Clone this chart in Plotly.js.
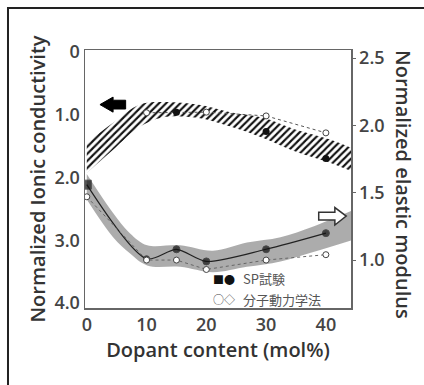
<!DOCTYPE html>
<html>
<head>
<meta charset="utf-8">
<script src="https://cdn.plot.ly/plotly-3.0.1.min.js"></script>
<style>html,body{margin:0;padding:0;background:#fff;}#chart{width:424px;height:385px;}</style>
</head>
<body>
<div id="chart"></div>
<script>
// ---- data ----
// Ionic conductivity (left axis, reversed)
const icSpX = [15, 30, 40];
const icSpY = [0.96, 1.27, 1.70];
const icMdX = [10, 20, 30, 40];
const icMdY = [0.97, 0.96, 1.02, 1.29];
// hatched band around ionic conductivity
const icBandX = [0, 4.4, 8.9, 12.8, 18.5, 24, 29.5, 35, 40.8, 45];
const icBandTop = [1.45, 1.13, 0.84, 0.80, 0.84, 0.96, 1.05, 1.24, 1.40, 1.56];
const icBandBottom = [1.93, 1.56, 1.19, 1.04, 1.05, 1.19, 1.37, 1.59, 1.77, 1.93];

// Elastic modulus (right axis)
const emSpX = [0, 10, 15, 20, 30, 40];
const emSpY = [1.56, 1.01, 1.08, 0.99, 1.08, 1.20];
const emMdX = [0, 10, 15, 20, 30, 40];
const emMdY = [1.47, 1.00, 1.00, 0.93, 1.00, 1.04];
// gray band around elastic modulus
const emBandX = [0, 4.4, 7.2, 10.1, 15.6, 21.1, 26.8, 32.4, 37.9, 44.5];
const emBandTop = [1.64, 1.35, 1.20, 1.11, 1.11, 1.07, 1.13, 1.17, 1.25, 1.37];
const emBandBottom = [1.45, 1.17, 1.05, 0.96, 0.95, 0.91, 0.95, 0.99, 1.06, 1.15];

// tick labels
const xTicks = [0, 10, 20, 30, 40];
const leftTicks = [0, 1, 2, 3, 4];
const leftTickText = ['0', '1.0', '2.0', '3.0', '4.0'];
const rightTicks = [1.0, 1.5, 2.0, 2.5];
const rightTickText = ['1.0', '1.5', '2.0', '2.5'];

// legend texts
const legendSp = 'SP試験';
const legendMd = '分子動力学法';

const fontFam = '"Open Sans", "Liberation Sans", sans-serif';
const jpFam = '"Noto Sans CJK JP", sans-serif';

const traces = [
  // hatched band (ionic conductivity)
  {x: icBandX, y: icBandTop, yaxis: 'y', mode: 'lines', line: {width: 0, shape: 'spline'}, hoverinfo: 'skip', showlegend: false},
  {x: icBandX, y: icBandBottom, yaxis: 'y', mode: 'lines', line: {width: 0, shape: 'spline'}, fill: 'tonexty',
   fillcolor: 'white',
   fillpattern: {shape: '/', fgcolor: '#111', bgcolor: 'white', size: 5, solidity: 0.42},
   hoverinfo: 'skip', showlegend: false},
  // gray band (elastic modulus)
  {x: emBandX, y: emBandTop, yaxis: 'y2', mode: 'lines', line: {width: 0, shape: 'spline'}, hoverinfo: 'skip', showlegend: false},
  {x: emBandX, y: emBandBottom, yaxis: 'y2', mode: 'lines', line: {width: 0, shape: 'spline'}, fill: 'tonexty',
   fillcolor: 'rgba(140,140,140,0.72)', hoverinfo: 'skip', showlegend: false},
  // elastic modulus SP
  {x: emSpX, y: emSpY, yaxis: 'y2', mode: 'lines+markers', name: 'SP試験 (modulus)',
   line: {color: '#222', width: 1.2, shape: 'spline', smoothing: 0.8},
   marker: {color: '#111', size: [9, 6, 7, 7, 7, 7], symbol: ['square', 'circle', 'circle', 'circle', 'circle', 'circle']},
   showlegend: false},
  // elastic modulus MD
  {x: emMdX, y: emMdY, yaxis: 'y2', mode: 'lines+markers', name: '分子動力学法 (modulus)',
   line: {color: '#666', width: 1, dash: 'dot'},
   marker: {color: 'white', size: 6, symbol: 'circle', line: {color: '#444', width: 1}},
   showlegend: false},
  // ionic conductivity MD
  {x: icMdX, y: icMdY, yaxis: 'y', mode: 'lines+markers', name: '分子動力学法 (conductivity)',
   line: {color: '#555', width: 1, dash: 'dot'},
   marker: {color: 'white', size: 6, symbol: 'circle', line: {color: '#444', width: 1}},
   showlegend: false},
  // ionic conductivity SP
  {x: icSpX, y: icSpY, yaxis: 'y', mode: 'markers', name: 'SP試験 (conductivity)',
   marker: {color: '#111', size: 7, symbol: 'circle'},
   showlegend: false}
];

const layout = {
  width: 424, height: 385,
  margin: {l: 85, r: 73, t: 50, b: 77},
  paper_bgcolor: 'white', plot_bgcolor: 'white',
  font: {family: fontFam, color: '#333'},
  showlegend: false,
  xaxis: {
    range: [-0.3, 44.2], tickvals: xTicks, ticktext: xTicks.map(String),
    showgrid: false, zeroline: false, showline: true, mirror: true, linecolor: '#666', linewidth: 1.5,
    ticks: '', tickfont: {size: 18, color: '#444', weight: 600},
    title: {text: 'Dopant content (mol%)', font: {size: 20, color: '#333', weight: 600}, standoff: 1}
  },
  yaxis: {
    range: [4.08, -0.03], tickvals: leftTicks, ticktext: leftTickText,
    showgrid: false, zeroline: false, showline: true, linecolor: '#666', linewidth: 1.5,
    ticks: '', tickfont: {size: 18, color: '#444', weight: 600},
    title: {text: 'Normalized Ionic conductivity', font: {size: 20, color: '#333', weight: 600}, standoff: 3}
  },
  yaxis2: {
    overlaying: 'y', side: 'right', range: [0.644, 2.56], tickvals: rightTicks, ticktext: rightTickText,
    showgrid: false, zeroline: false, showline: true, linecolor: '#666', linewidth: 1.5,
    ticks: 'outside', ticklen: 3, tickcolor: '#666', tickfont: {size: 18, color: '#444', weight: 600}
  },
  shapes: [
    // outer frame (top & left visible)
    {type: 'rect', xref: 'paper', yref: 'paper', x0: -0.2895, x1: 1.4, y0: -0.4, y1: 1.163,
     line: {color: '#222', width: 2}, fillcolor: 'rgba(0,0,0,0)', layer: 'below'},
    // black arrow pointing left (toward left axis)
    {type: 'path', xref: 'x', yref: 'y',
     path: 'M 2.2,0.84 L 4.4,0.72 L 4.4,0.77 L 6.5,0.77 L 6.5,0.91 L 4.4,0.91 L 4.4,0.96 Z',
     fillcolor: '#000', line: {color: '#000', width: 1}},
    // hollow arrow pointing right (toward right axis)
    {type: 'path', xref: 'x', yref: 'y2',
     path: 'M 38.8,1.356 L 41.5,1.356 L 41.5,1.39 L 43.4,1.327 L 41.5,1.26 L 41.5,1.297 L 38.8,1.297 Z',
     fillcolor: 'white', line: {color: '#333', width: 1.5}}
  ],
  annotations: [
    {text: 'Normalized elastic modulus', xref: 'paper', yref: 'paper', x: 1.195, y: 0.477,
     textangle: 90, showarrow: false, xanchor: 'center', yanchor: 'middle',
     font: {size: 20, color: '#333', weight: 600, family: fontFam}},
    {text: '■●', xref: 'paper', yref: 'paper', x: 0.475, y: 0.114, showarrow: false, xanchor: 'left', yanchor: 'middle',
     font: {size: 11, color: '#111', family: jpFam}},
    {text: legendSp, xref: 'paper', yref: 'paper', x: 0.588, y: 0.114, showarrow: false, xanchor: 'left', yanchor: 'middle',
     font: {size: 13, color: '#555', family: jpFam}},
    {text: '○◇', xref: 'paper', yref: 'paper', x: 0.475, y: 0.034, showarrow: false, xanchor: 'left', yanchor: 'middle',
     font: {size: 11, color: '#444', family: jpFam}},
    {text: legendMd, xref: 'paper', yref: 'paper', x: 0.588, y: 0.034, showarrow: false, xanchor: 'left', yanchor: 'middle',
     font: {size: 13, color: '#555', family: jpFam}}
  ]
};

Plotly.newPlot('chart', traces, layout, {staticPlot: true, displayModeBar: false});
</script>
</body>
</html>
